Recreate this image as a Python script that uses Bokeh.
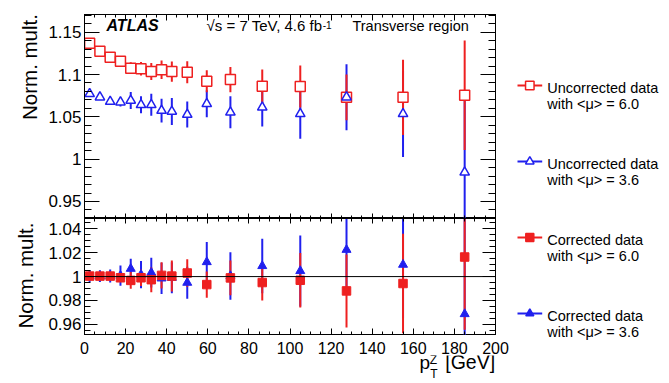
import math
from bokeh.plotting import figure
from bokeh.layouts import column, row
from bokeh.models import (Range1d, SingleIntervalTicker, LinearAxis, Span, Label,
                          NumeralTickFormatter, ColumnDataSource, FixedTicker)
from bokeh.embed import file_html
from bokeh.resources import INLINE
from bokeh.core.properties import value

FONT = "Liberation Sans"
RED = "#ee2020"
BLUE = "#2020ee"

# ---------------- data ----------------
pt_z = [2.5, 7.5, 12.5, 17.5, 22.5, 27.5, 32.5, 37.5, 42.5, 50.0, 59.5, 71.0,
        86.5, 105.0, 127.5, 155.0, 185.0]

uncorr_mu60 = [1.137, 1.1275, 1.1205, 1.1157, 1.1075, 1.1067, 1.1035, 1.1056, 1.1035,
               1.1027, 1.092, 1.094, 1.086, 1.0858, 1.073, 1.073, 1.0755]
uncorr_mu60_err = [0.003, 0.003, 0.003, 0.003, 0.007, 0.008, 0.010, 0.011, 0.012,
                   0.013, 0.013, 0.015, 0.020, 0.0248, 0.027, 0.0444, 0.0647]

uncorr_mu36 = [1.0772, 1.0732, 1.068, 1.0673, 1.0693, 1.0642, 1.0642, 1.0574, 1.0563,
               1.0527, 1.0654, 1.0554, 1.0613, 1.0535, 1.0732, 1.0535, 0.9845]
uncorr_mu36_err = [0.003, 0.003, 0.004, 0.005, 0.010, 0.010, 0.013, 0.014, 0.016,
                   0.0154, 0.016, 0.019, 0.0227, 0.0295, 0.039, 0.051, 0.09]

corr_mu60 = [1.0004, 1.0004, 1.0004, 0.999, 0.9968, 0.999, 0.9974, 1.001, 1.0004,
             1.003, 0.9933, 0.9989, 0.995, 0.9969, 0.988, 0.9942, 1.0164]
corr_mu60_err = [0.002, 0.002, 0.002, 0.003, 0.007, 0.007, 0.0105, 0.011, 0.013,
                 0.0115, 0.011, 0.0146, 0.015, 0.0228, 0.0306, 0.0418, 0.061]

corr_mu36 = [1.0004, 1.0004, 1.0005, 1.0008, 1.0066, 1.0016, 1.0033, 0.9985, 0.999,
             0.9949, 1.0122, 1.0005, 1.0089, 1.0047, 1.0225, 1.010, 0.9686]
corr_mu36_err = [0.005, 0.005, 0.0055, 0.0084, 0.0084, 0.0114, 0.0125, 0.013, 0.013,
                 0.0134, 0.0167, 0.020, 0.0228, 0.0298, 0.035, 0.045, 0.09]

legend_line1 = ["Uncorrected data", "Uncorrected data", "Corrected data", "Corrected data"]
legend_line2 = ["with <\u03bc> = 6.0", "with <\u03bc> = 3.6", "with <\u03bc> = 6.0", "with <\u03bc> = 3.6"]

y_title = "Norm. mult."
x_title_parts = ["p", "Z", "T", "[GeV]"]
x_tick_values = [0, 20, 40, 60, 80, 100, 120, 140, 160, 180, 200]

x_ticks_interval = 20
top_tick_interval = 0.05
bot_tick_interval = 0.02
X_MIN, X_MAX = 0, 200

LEFT_W = 44          # column holding the y titles
MAIN_BL = 40         # left border inside the main figures
FRAME_W = 411
RIGHT_B = 14
COL_W = MAIN_BL + FRAME_W + RIGHT_B
LEG_W = 669 - LEFT_W - COL_W
TOP_B = 14
TOP_H = 204
BOT_H = 117
STRIP_H = 383 - TOP_B - TOP_H - BOT_H
STRIP_AX = 20
STRIP_FH = STRIP_H - STRIP_AX


def src(x, y, e):
    return ColumnDataSource(dict(x=x, y=y, lo=[a - b for a, b in zip(y, e)],
                                 hi=[a + b for a, b in zip(y, e)]))


def style_axis(ax, tin, minin, labels=True, size="17px", standoff=3):
    ax.major_tick_in = tin
    ax.major_tick_out = 0
    ax.minor_tick_in = minin
    ax.minor_tick_out = 0
    ax.axis_line_color = "black"
    ax.axis_line_width = 1
    ax.major_tick_line_color = "black"
    ax.minor_tick_line_color = "black"
    if labels:
        ax.major_label_text_font = FONT
        ax.major_label_text_font_size = size
        ax.major_label_text_color = "black"
        ax.major_label_standoff = standoff
    else:
        ax.major_label_text_font_size = "0px"
        ax.major_label_standoff = 0
        ax.major_label_text_alpha = 0


def blank(p):
    p.outline_line_color = None
    p.xgrid.grid_line_color = None
    p.ygrid.grid_line_color = None
    p.background_fill_color = "white"
    p.border_fill_color = "white"


def make_fig(fh, yr, mbt, mbb):
    p = figure(frame_width=FRAME_W, frame_height=fh, min_border_left=MAIN_BL,
               min_border_right=RIGHT_B, min_border_top=mbt, min_border_bottom=mbb,
               x_range=Range1d(X_MIN, X_MAX), y_range=Range1d(*yr),
               output_backend="svg", toolbar_location=None,
               x_axis_location=None, y_axis_location=None)
    p.outline_line_color = "black"
    p.outline_line_width = 1
    p.background_fill_color = "white"
    p.border_fill_color = "white"
    p.xgrid.grid_line_color = None
    p.ygrid.grid_line_color = None
    return p


# ---------------- top panel ----------------
top = make_fig(TOP_H, (0.9299, 1.1709), TOP_B, 0)
ytick_top = SingleIntervalTicker(interval=top_tick_interval, num_minor_ticks=5)
xtick = SingleIntervalTicker(interval=x_ticks_interval, num_minor_ticks=4)

ax = LinearAxis(ticker=ytick_top, formatter=NumeralTickFormatter(format="0.[00]"))
style_axis(ax, 15, 7, True, "17px", 3)
top.add_layout(ax, "left")
ax = LinearAxis(ticker=ytick_top)
style_axis(ax, 15, 7, False)
top.add_layout(ax, "right")
ax = LinearAxis(ticker=xtick)
style_axis(ax, 5, 3, False)
top.add_layout(ax, "below")
ax = LinearAxis(ticker=xtick)
style_axis(ax, 6, 3, False)
top.add_layout(ax, "above")

s_b = src(pt_z, uncorr_mu36, uncorr_mu36_err)
s_r = src(pt_z, uncorr_mu60, uncorr_mu60_err)
top.segment("x", "lo", "x", "hi", source=s_b, line_color=BLUE, line_width=2)
top.segment("x", "lo", "x", "hi", source=s_r, line_color=RED, line_width=2)
top.scatter("x", "y", source=s_r, marker="square", size=10, fill_color="white",
            line_color=RED, line_width=1.5)
top.scatter("x", "y", source=s_b, marker="triangle", size=9.5, fill_color="white",
            line_color=BLUE, line_width=1.5)

top.add_layout(Label(x=10.7, y=1.1473, text="ATLAS", text_font=FONT,
                     text_font_style="bold italic", text_font_size="16px",
                     text_color="black"))
top.add_layout(Label(x=115.7, y=1.1473, text="\u221as = 7 TeV, 4.6 fb", text_font=FONT,
                     text_font_size="15px", text_align="right", text_color="black"))
top.add_layout(Label(x=115.9, y=1.1538, text="-1", text_font=FONT,
                     text_font_size="10px", text_color="black"))
top.add_layout(Label(x=187.0, y=1.1473, text="Transverse region", text_font=FONT,
                     text_font_size="14.5px", text_align="right", text_color="black"))

# ---------------- bottom panel ----------------
bot = make_fig(BOT_H, (0.9506, 1.0487), 0, 0)
ytick_bot = SingleIntervalTicker(interval=bot_tick_interval, num_minor_ticks=4)
ax = LinearAxis(ticker=ytick_bot, formatter=NumeralTickFormatter(format="0.[00]"))
style_axis(ax, 13, 6, True, "17px", 3)
bot.add_layout(ax, "left")
ax = LinearAxis(ticker=ytick_bot)
style_axis(ax, 13, 6, False)
bot.add_layout(ax, "right")
ax = LinearAxis(ticker=xtick)
style_axis(ax, 7, 4, False)
bot.add_layout(ax, "below")
ax = LinearAxis(ticker=xtick)
style_axis(ax, 5, 3, False)
bot.add_layout(ax, "above")

bot.add_layout(Span(location=1.0, dimension="width", line_color="black", line_width=1))

c_b = src(pt_z, corr_mu36, corr_mu36_err)
c_r = src(pt_z, corr_mu60, corr_mu60_err)
bot.segment("x", "lo", "x", "hi", source=c_b, line_color=BLUE, line_width=2)
bot.segment("x", "lo", "x", "hi", source=c_r, line_color=RED, line_width=2)
bot.scatter("x", "y", source=c_b, marker="triangle", size=9, fill_color=BLUE,
            line_color=BLUE, line_width=1)
bot.scatter("x", "y", source=c_r, marker="square", size=8.5, fill_color=RED,
            line_color=RED, line_width=1)

# ---------------- x tick labels + x title strip ----------------
xt = figure(frame_width=FRAME_W, frame_height=STRIP_FH, min_border_left=MAIN_BL,
            min_border_right=RIGHT_B, min_border_top=STRIP_AX, min_border_bottom=0,
            x_range=Range1d(X_MIN, X_MAX), y_range=Range1d(STRIP_FH, 0),
            output_backend="svg", toolbar_location=None,
            x_axis_location=None, y_axis_location=None)
blank(xt)
xlab_ax = LinearAxis(ticker=FixedTicker(ticks=x_tick_values))
xlab_ax.axis_line_color = None
xlab_ax.major_tick_line_color = None
xlab_ax.minor_tick_line_color = None
xlab_ax.major_tick_in = 0
xlab_ax.major_tick_out = 0
xlab_ax.minor_tick_in = 0
xlab_ax.minor_tick_out = 0
xlab_ax.major_label_text_font = FONT
xlab_ax.major_label_text_font_size = "16px"
xlab_ax.major_label_text_color = "black"
xlab_ax.major_label_standoff = 2
xt.add_layout(xlab_ax, "above")

xt.text(x=[163.0], y=[17.3], text=[x_title_parts[0]], text_font=value(FONT),
        text_font_size="19px", text_color="black")
xt.text(x=[168.0, 168.2], y=[11.6, 25.0], text=x_title_parts[1:3], text_font=value(FONT),
        text_font_size="12px", text_color="black")
xt.text(x=[199.8], y=[17.0], text=[x_title_parts[3]], text_font=value(FONT),
        text_font_size="19.5px", text_align="right", text_color="black")

# ---------------- y title strip ----------------
yt = figure(frame_width=LEFT_W, frame_height=383, min_border=0,
            x_range=Range1d(0, LEFT_W), y_range=Range1d(383, 0),
            output_backend="svg", toolbar_location=None,
            x_axis_location=None, y_axis_location=None)
blank(yt)
yt.text(x=[40.0, 36.7], y=[66.5, 275.0], text=[y_title, y_title], text_font=value(FONT),
        text_font_size="20.5px", text_align="center", angle=math.pi / 2,
        text_color="black")

# ---------------- legend panel ----------------
leg = figure(frame_width=LEG_W, frame_height=383, min_border=0,
             x_range=Range1d(0, LEG_W), y_range=Range1d(383, 0),
             output_backend="svg", toolbar_location=None,
             x_axis_location=None, y_axis_location=None)
blank(leg)

LX0 = LEFT_W + COL_W    # canvas x where the legend panel starts
row_y = [85, 161, 237, 313]
line_y1 = [y + 2 for y in row_y]
line_y2 = [y + 18 for y in row_y]
colors = [RED, BLUE, RED, BLUE]
markers = ["square", "triangle", "square", "triangle"]
fills = ["white", "white", RED, BLUE]
msize = [8.5, 8.5, 8, 8]

leg.segment(x0=[517 - LX0] * 4, y0=row_y, x1=[541.7 - LX0] * 4, y1=row_y,
            line_color=colors, line_width=2)
leg.scatter(x=[529.3 - LX0] * 4, y=row_y, marker=markers, size=msize, fill_color=fills,
            line_color=colors, line_width=1.5)
leg.text(x=[546.7 - LX0] * 4, y=line_y1, text=legend_line1, text_font=value(FONT),
         text_font_size="14.5px", text_baseline="middle", text_color="black")
leg.text(x=[546.7 - LX0] * 4, y=line_y2, text=legend_line2, text_font=value(FONT),
         text_font_size="14.5px", text_baseline="middle", text_color="black")

layout = row(yt, column(top, bot, xt, spacing=0), leg, spacing=0)
open("out.html", "w").write(file_html(layout, INLINE))
